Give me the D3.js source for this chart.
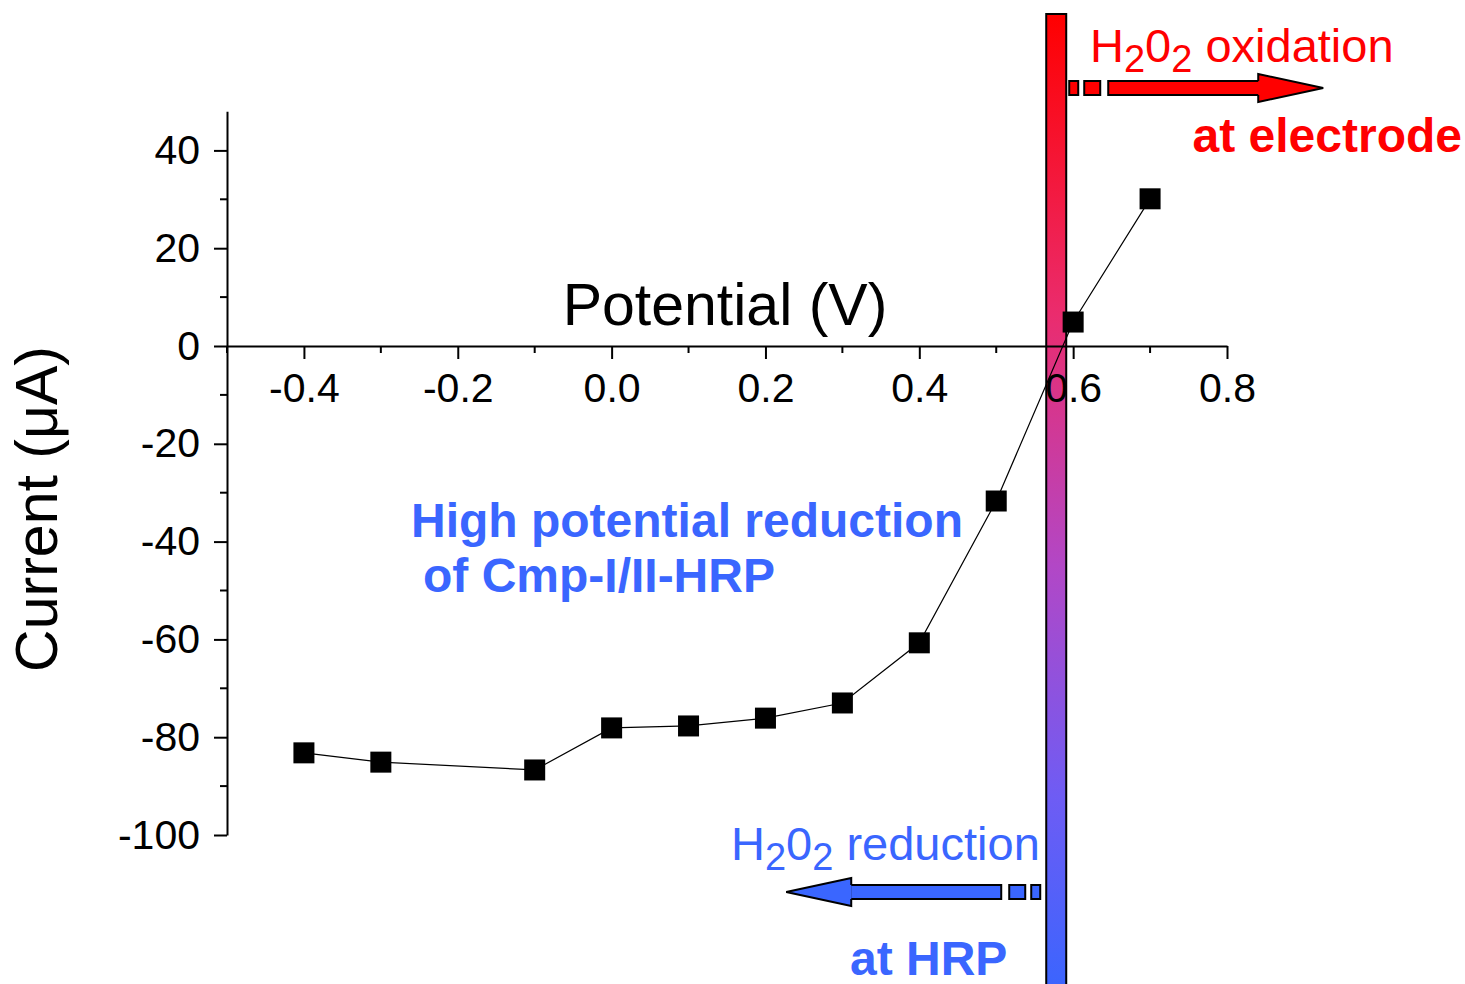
<!DOCTYPE html>
<html>
<head>
<meta charset="utf-8">
<script src="https://cdn.jsdelivr.net/npm/d3@7"></script>
<style>
  html, body { margin: 0; padding: 0; background: #fff; }
  svg { display: block; font-family: "Liberation Sans", Arial, sans-serif; }
</style>
</head>
<body>
<script>
// Measured current vs. applied potential
const potential = [-0.4, -0.3, -0.1, 0.0, 0.1, 0.2, 0.3, 0.4, 0.5, 0.6, 0.7];
const current = [-83.2, -85.1, -86.7, -78.1, -77.7, -76.1, -73.0, -60.7, -31.7, 4.9, 30.1];

const xMajorTicks = [-0.4, -0.2, 0.0, 0.2, 0.4, 0.6, 0.8];
const xMinorTicks = [-0.5, -0.3, -0.1, 0.1, 0.3, 0.5, 0.7];
const yMajorTicks = [-100, -80, -60, -40, -20, 0, 20, 40];
const yMinorTicks = [-90, -70, -50, -30, -10, 10, 30];

// Potential at which the current changes sign (boundary bar)
const crossoverPotential = 0.578;

const W = 1465, H = 984;
const RED = "#ff0000", BLUE = "#3a66ff";

const svg = d3.select("body").append("svg")
  .attr("width", W).attr("height", H);

const x = d3.scaleLinear().domain([-0.5, 0.8]).range([227, 1227]);
const y = d3.scaleLinear().domain([-100, 48]).range([835, 835 - 148 * 4.89]);

// Gradient boundary bar
const defs = svg.append("defs");
const grad = defs.append("linearGradient")
  .attr("id", "barGrad").attr("x1", 0).attr("y1", 0).attr("x2", 0).attr("y2", 1);
grad.append("stop").attr("offset", "0%").attr("stop-color", "#ff0000");
grad.append("stop").attr("offset", "30%").attr("stop-color", "#ea2c6e");
grad.append("stop").attr("offset", "55%").attr("stop-color", "#b247c6");
grad.append("stop").attr("offset", "78%").attr("stop-color", "#6e5cf4");
grad.append("stop").attr("offset", "100%").attr("stop-color", "#3366ff");

const barX = x(crossoverPotential);
svg.append("rect")
  .attr("x", barX - 10).attr("y", 14)
  .attr("width", 20).attr("height", H + 20)
  .attr("fill", "url(#barGrad)")
  .attr("stroke", "#000").attr("stroke-width", 2);

// X axis through y = 0
const xAxis = d3.axisBottom(x)
  .tickValues(xMajorTicks)
  .tickFormat(d => d.toFixed(1))
  .tickSize(13).tickSizeOuter(0).tickPadding(14);
const gx = svg.append("g").attr("transform", `translate(0,${y(0)})`).call(xAxis);
gx.selectAll(".tick line").attr("stroke-width", 2);
gx.select(".domain").attr("stroke-width", 2);
gx.selectAll(".tick text").attr("font-size", 41).attr("fill", "#000")
  .attr("font-family", "Liberation Sans, Arial, sans-serif");
gx.selectAll(".minor").data(xMinorTicks).enter().append("line")
  .attr("class", "minor")
  .attr("x1", d => x(d)).attr("x2", d => x(d))
  .attr("y1", 0).attr("y2", 7)
  .attr("stroke", "#000").attr("stroke-width", 2);

// Y axis
const yAxis = d3.axisLeft(y)
  .tickValues(yMajorTicks)
  .tickFormat(d => String(d))
  .tickSize(13).tickSizeOuter(0).tickPadding(14);
const gy = svg.append("g").attr("transform", `translate(${x(-0.5)},0)`).call(yAxis);
gy.selectAll(".tick line").attr("stroke-width", 2);
gy.select(".domain").attr("stroke-width", 2);
gy.selectAll(".tick text").attr("font-size", 41).attr("fill", "#000")
  .attr("font-family", "Liberation Sans, Arial, sans-serif");
gy.selectAll(".minor").data(yMinorTicks).enter().append("line")
  .attr("class", "minor")
  .attr("x1", -7).attr("x2", 0)
  .attr("y1", d => y(d)).attr("y2", d => y(d))
  .attr("stroke", "#000").attr("stroke-width", 2);

// Axis titles
svg.append("text")
  .attr("x", 725).attr("y", 325)
  .attr("text-anchor", "middle")
  .attr("font-size", 59).attr("fill", "#000")
  .text("Potential (V)");
svg.append("text")
  .attr("transform", `translate(57,509) rotate(-90)`)
  .attr("text-anchor", "middle")
  .attr("font-size", 59).attr("fill", "#000")
  .text("Current (μA)");

// Data line and square markers
const pts = potential.map((p, i) => ({ p, c: current[i] }));
svg.append("path")
  .datum(pts)
  .attr("fill", "none").attr("stroke", "#000").attr("stroke-width", 1.2)
  .attr("d", d3.line().x(d => x(d.p)).y(d => y(d.c)));
const M = 21;
svg.selectAll(".pt").data(pts).enter().append("rect")
  .attr("class", "pt")
  .attr("x", d => x(d.p) - M / 2).attr("y", d => y(d.c) - M / 2)
  .attr("width", M).attr("height", M)
  .attr("fill", "#000");

// Annotation helper with H2O2 subscripts
function h2o2Label(tx, ty, rest, color) {
  const t = svg.append("text").attr("x", tx).attr("y", ty)
    .attr("font-size", 47).attr("fill", color);
  t.append("tspan").text("H");
  t.append("tspan").attr("font-size", 38).attr("dy", 10).text("2");
  t.append("tspan").attr("dy", -10).text("0");
  t.append("tspan").attr("font-size", 38).attr("dy", 10).text("2");
  t.append("tspan").attr("dy", -10).text(" " + rest);
  return t;
}

// Dashed-start block arrows
function blockArrow(dir, yc, startX, color) {
  // dir = +1 points right, -1 points left
  const g = svg.append("g").attr("fill", color).attr("stroke", "#000").attr("stroke-width", 2);
  const segs = [[1, 10], [16, 32], [40, 190]];
  segs.forEach(([a, b]) => {
    const x0 = startX + dir * a, x1 = startX + dir * b;
    g.append("rect")
      .attr("x", Math.min(x0, x1)).attr("y", yc - 7)
      .attr("width", Math.abs(x1 - x0)).attr("height", 14);
  });
  const base = startX + dir * 190, tip = startX + dir * 255;
  g.append("path")
    .attr("d", `M${base},${yc - 7} L${base},${yc - 14} L${tip},${yc} L${base},${yc + 14} L${base},${yc + 7}`);
  // cover the seam between shaft and head
  g.append("rect")
    .attr("x", Math.min(base, base - dir * 4)).attr("y", yc - 6)
    .attr("width", 5).attr("height", 12).attr("stroke", "none");
}

blockArrow(1, 88, barX + 12, RED);
blockArrow(-1, 892, barX - 15, BLUE);

h2o2Label(1090, 62, "oxidation", RED);
svg.append("text")
  .attr("x", 1462).attr("y", 152).attr("text-anchor", "end")
  .attr("font-size", 48).attr("font-weight", "bold").attr("fill", RED)
  .text("at electrode");

h2o2Label(731, 860, "reduction", BLUE);
svg.append("text")
  .attr("x", 850).attr("y", 975)
  .attr("font-size", 48).attr("font-weight", "bold").attr("fill", BLUE)
  .text("at HRP");

svg.append("text")
  .attr("x", 411).attr("y", 537)
  .attr("font-size", 48).attr("font-weight", "bold").attr("fill", BLUE)
  .text("High potential reduction");
svg.append("text")
  .attr("x", 423).attr("y", 592)
  .attr("font-size", 48).attr("font-weight", "bold").attr("fill", BLUE)
  .text("of Cmp-I/II-HRP");
</script>
</body>
</html>
